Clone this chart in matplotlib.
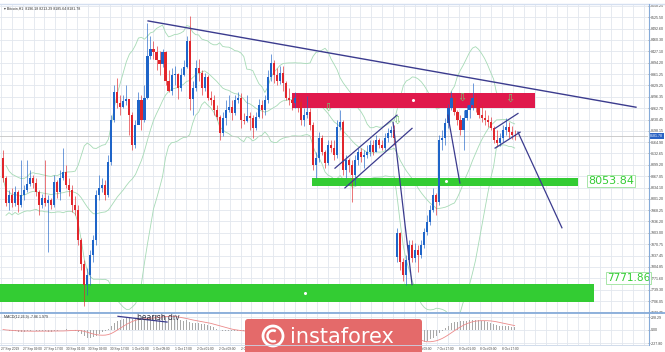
import numpy as np
import pandas as pd
import matplotlib
matplotlib.use("Agg")
import matplotlib.pyplot as plt
from matplotlib.patches import Rectangle, FancyBboxPatch, Circle, Arc

# Bitcoin H1 candles
closes = [8062, 7990, 8013, 7990, 8021, 7984, 8013, 8027, 8044, 8062,
          8047, 8021, 7984, 8004, 7990, 7998, 7984, 8050, 8021, 8062,
          8079, 8042, 8027, 7984, 7970, 7884, 7812, 7754, 7783, 7840,
          7884, 8013, 8033, 8042, 8013, 8108, 8228, 8309, 8277, 8268,
          8283, 8289, 8243, 8156, 8214, 8286, 8228, 8294, 8415, 8435,
          8424, 8401, 8392, 8424, 8343, 8314, 8358, 8363, 8320, 8360,
          8381, 8458, 8291, 8320, 8378, 8366, 8320, 8352, 8294, 8286,
          8257, 8237, 8191, 8234, 8257, 8268, 8248, 8286, 8294, 8228,
          8225, 8240, 8234, 8205, 8237, 8271, 8257, 8286, 8352, 8395,
          8358, 8343, 8366, 8335, 8294, 8286, 8277, 8294, 8280, 8228,
          8243, 8251, 8214, 8099, 8119, 8177, 8136, 8105, 8156, 8148,
          8128, 8208, 8222, 8085, 8113, 8099, 8070, 8113, 8136, 8122,
          8128, 8136, 8156, 8136, 8171, 8156, 8148, 8177, 8191, 8200,
          8177, 7904, 7820, 7783, 7826, 7869, 7832, 7855, 7840, 7869,
          7907, 7935, 7970, 8013, 7993, 8171, 8177, 8220, 8263, 8294,
          8251, 8228, 8200, 8234, 8257, 8271, 8294, 8263, 8243, 8234,
          8228, 8222, 8205, 8171, 8162, 8177, 8200, 8208, 8194, 8185,
          8182]
highs = [8142, 8067, 8027, 8033, 8039, 8027, 8113, 8042, 8113, 8085,
         8070, 8062, 8027, 8016, 8113, 8013, 8004, 8070, 8056, 8085,
         8148, 8099, 8062, 8042, 8010, 7984, 7889, 7826, 7803, 7855,
         7898, 8027, 8070, 8062, 8056, 8128, 8243, 8329, 8349, 8300,
         8300, 8329, 8291, 8251, 8228, 8309, 8300, 8329, 8510, 8472,
         8458, 8444, 8429, 8435, 8429, 8372, 8378, 8386, 8366, 8378,
         8401, 8472, 8530, 8343, 8401, 8406, 8372, 8366, 8358, 8314,
         8300, 8271, 8243, 8251, 8286, 8300, 8286, 8300, 8309, 8306,
         8248, 8300, 8251, 8243, 8251, 8291, 8286, 8300, 8372, 8421,
         8401, 8378, 8386, 8386, 8343, 8320, 8300, 8309, 8300, 8294,
         8263, 8297, 8263, 8222, 8136, 8194, 8185, 8142, 8171, 8171,
         8171, 8228, 8257, 8228, 8128, 8119, 8113, 8128, 8148, 8148,
         8142, 8156, 8171, 8171, 8185, 8177, 8171, 8191, 8205, 8211,
         8214, 7918, 7907, 7832, 7840, 7884, 7884, 7875, 7869, 7884,
         7918, 7955, 7984, 8033, 8019, 8185, 8200, 8234, 8274, 8314,
         8300, 8257, 8243, 8257, 8271, 8286, 8337, 8300, 8277, 8271,
         8257, 8243, 8237, 8211, 8200, 8191, 8214, 8234, 8222, 8211,
         8200]
lows = [8050, 7981, 7970, 7978, 7981, 7964, 7978, 7998, 8021, 8039,
        8033, 8010, 7955, 7975, 7981, 7849, 7973, 7978, 8004, 7998,
        8056, 8033, 8010, 7964, 7955, 7869, 7797, 7691, 7725, 7754,
        7820, 7869, 7998, 8021, 7998, 8007, 8099, 8222, 8263, 8243,
        8263, 8271, 8185, 8142, 8148, 8243, 8200, 8222, 8291, 8406,
        8406, 8372, 8358, 8383, 8329, 8309, 8300, 8329, 8291, 8314,
        8355, 8378, 8257, 8243, 8314, 8343, 8300, 8314, 8286, 8271,
        8243, 8228, 8171, 8182, 8214, 8251, 8228, 8243, 8277, 8205,
        8217, 8222, 8200, 8177, 8200, 8234, 8234, 8243, 8277, 8343,
        8337, 8329, 8332, 8314, 8286, 8271, 8257, 8263, 8251, 8214,
        8211, 8234, 8200, 8085, 8062, 8108, 8128, 8090, 8099, 8136,
        8113, 8119, 8200, 8070, 8062, 8079, 7993, 8042, 8099, 8108,
        8090, 8119, 8125, 8128, 8136, 8148, 8142, 8142, 8165, 8179,
        8156, 7820, 7797, 7763, 7754, 7812, 7820, 7820, 7789, 7832,
        7861, 7898, 7927, 7964, 7955, 7984, 8142, 8156, 8205, 8257,
        8243, 8214, 8185, 8142, 8228, 8234, 8257, 8251, 8234, 8222,
        8214, 8208, 8200, 8162, 8151, 8154, 8165, 8185, 8177, 8174,
        8171]
# opens follow the previous close except at the start and after the weekend gap
gap_opens = {0: 8119, 131: 7835}

price_ticks = [8558.25, 8525.50, 8492.60, 8460.30, 8427.10, 8394.20, 8361.25,
               8329.25, 8296.35, 8262.70, 8230.45, 8198.15, 8164.90, 8132.65,
               8099.20, 8067.05, 8034.10, 8001.20, 7968.25, 7936.20, 7903.00,
               7870.75, 7837.45, 7804.85, 7771.60, 7739.30, 7706.05, 7673.75]
time_labels = ["27 Sep 2019", "27 Sep 09:00", "27 Sep 17:00", "30 Sep 01:00",
               "30 Sep 09:00", "30 Sep 17:00", "1 Oct 01:00", "1 Oct 09:00",
               "1 Oct 17:00", "2 Oct 01:00", "2 Oct 09:00", "2 Oct 17:00",
               "3 Oct 01:00", "3 Oct 09:00", "3 Oct 17:00", "4 Oct 01:00",
               "4 Oct 09:00", "4 Oct 17:00", "7 Oct 01:00", "7 Oct 09:00",
               "7 Oct 17:00", "8 Oct 01:00", "8 Oct 09:00", "8 Oct 17:00"]
macd_ticks = [228.29, 0.0, -227.80]

# analyst drawings: (x in bars, price)
trendline = [(48.2, 8515), (210.3, 8266)]
blue_lines = [
    [(110.3, 8090), (130.9, 8243)],
    [(113.6, 8033), (135.9, 8205)],
    [(129.6, 8222), (135.9, 7754)],
    [(147.8, 8243), (151.8, 8047)],
    [(163.5, 8205), (171.1, 8248)],
    [(163.5, 8148), (171.8, 8194)],
    [(171.1, 8194), (185.7, 7918)],
]
red_zone = (96.0, 176.7, 8263, 8306)
green_zone_hi = (102.7, 191.0, 8040, 8062)
green_zone_lo = (-1.0, 196.3, 7705, 7757)
level_hi = 8053.84
level_lo = 7771.86
arrows = [(108.0, 8263), (130.9, 8228), (152.5, 8294), (168.4, 8291)]

BULL = "#1e64c8"
BEAR = "#e1262c"
NAVY = "#3b3b8e"
LIME = "#33cc33"
GRID = "#e2e7ee"
FRAME = "#86abd9"
TICKFONT = "Liberation Sans"

n = len(closes)
x = np.arange(n)
opens = [gap_opens.get(i, closes[i - 1]) for i in range(n)]
s = pd.Series(closes, dtype=float)
mid = s.rolling(20, min_periods=1).mean()
dev = s.rolling(20, min_periods=2).std(ddof=0)
macd = s.ewm(span=12, adjust=False).mean() - s.ewm(span=26, adjust=False).mean()
signal = macd.rolling(9, min_periods=1).mean()

W, H = 665, 352
fig = plt.figure(figsize=(W / 100, H / 100), dpi=100)
ax = fig.add_axes([0, 39 / H, 648 / W, 308 / H])
axm = fig.add_axes([0, 7 / H, 648 / W, 31 / H])

XL = (-1.0, 214.3)
grid_x = np.arange(-0.7, XL[1], 3.62)
label_x = np.arange(-0.7, 7.24 * len(time_labels) - 1, 7.24)

# main pane
ax.set_xlim(*XL)
ax.set_ylim(7672, 8561)
ax.set_xticks(grid_x)
ax.tick_params(axis="x", length=0, labelbottom=False)
ax.set_yticks(price_ticks)
ax.set_yticklabels([f"{v:.2f}" for v in price_ticks], family=TICKFONT)
ax.yaxis.tick_right()
ax.tick_params(axis="y", labelsize=2.6, length=1.2, pad=0.6, colors="#444444", width=0.4)
ax.grid(True, color=GRID, lw=0.6)
ax.set_axisbelow(True)
for sp in ax.spines.values():
    sp.set_visible(False)

for band in (mid + 2 * dev, mid, mid - 2 * dev):
    ax.plot(x, band, color="#a6dab5", lw=0.6, zorder=2)

ax.axhline(closes[-1], color="#c4c4c4", lw=0.6, zorder=2)

for (x0, x1, p0, p1), col in ((red_zone, "#e0194c"), (green_zone_hi, LIME), (green_zone_lo, LIME)):
    ax.add_patch(Rectangle((x0, p0), x1 - x0, p1 - p0, color=col, lw=0, zorder=3))

for i in range(n):
    o, c = opens[i], closes[i]
    col = BULL if c >= o else BEAR
    ax.vlines(x[i], lows[i], highs[i], color=col, lw=0.6, alpha=0.75, zorder=4)
    ax.bar(x[i], max(abs(c - o), 2), bottom=min(o, c), width=0.7, color=col, lw=0, zorder=5)

ax.plot(*zip(*trendline), color=NAVY, lw=1.0, zorder=6)
for seg in blue_lines:
    ax.plot(*zip(*seg), color=NAVY, lw=0.9, zorder=6)

for ax_, ap in arrows:
    ax.text(ax_, ap, "\u21e9", color="#74c874", fontsize=8, ha="center", va="center", zorder=7)

for px, pp in ((136.2, 8286), (147.2, 8053), (100.3, 7731)):
    ax.plot(px, pp, "o", ms=1.2, color="white", zorder=7)

box = dict(boxstyle="square,pad=0.1", fc="white", ec="#a8e6a8", lw=0.7)
ax.text(194.4, level_hi, f"{level_hi:.2f}", color=LIME, fontsize=8, va="center", ha="left", bbox=box, zorder=8)
ax.text(200.7, level_lo, f"{level_lo:.2f}", color=LIME, fontsize=7.6, va="center", ha="left", bbox=box, zorder=8)

ax.text(0.3, 8556, "\u25be Bitcoin,H1  8196.18 8213.29 8185.64 8181.78", fontsize=2.6,
        color="#333333", va="top", zorder=8, family=[TICKFONT, "DejaVu Sans"])

# current price tag on the axis
ax.annotate(f"{8181.78:.2f}", xy=(1.0, closes[-1]), xycoords=("axes fraction", "data"),
            xytext=(1.2, 0), textcoords="offset points", fontsize=2.6, color="white", va="center",
            family=TICKFONT, bbox=dict(boxstyle="square,pad=0.3", fc="#2a63c4", ec="none"),
            zorder=9, annotation_clip=False)

# MACD pane
axm.set_xlim(*XL)
mlim = 1.08 * float(np.abs(macd).max())
axm.set_ylim(-mlim, mlim)
axm.bar(x, macd, width=0.35, color="#a8a8a8", zorder=3)
axm.plot(x, signal, color="#ec8a8a", lw=0.6, zorder=4)
axm.set_xticks(label_x)
axm.set_xticklabels(time_labels, ha="left", family=TICKFONT)
axm.set_xticks(grid_x, minor=True)
axm.tick_params(axis="x", which="both", length=0, labelsize=2.3, pad=1.5, colors="#444444")
axm.set_yticks([mlim * 0.8, 0.0, -mlim * 0.9])
axm.set_yticklabels([f"{v:.2f}" for v in macd_ticks], family=TICKFONT)
axm.yaxis.tick_right()
axm.tick_params(axis="y", labelsize=2.6, length=1.2, pad=0.6, colors="#444444", width=0.4)
axm.grid(True, which="both", axis="x", color=GRID, lw=0.6)
axm.grid(True, axis="y", color=GRID, lw=0.6)
axm.set_axisbelow(True)
for sp in axm.spines.values():
    sp.set_visible(False)
axm.text(0.3, mlim * 0.95, "MACD(12,26,9) -7.86 1.979", fontsize=2.6, color="#333333", va="top",
         family=TICKFONT)
axm.plot([38.2, 54.5], [mlim * 0.85, mlim * 0.48], color=NAVY, lw=0.9, zorder=5)
axm.text(44.6, mlim * 0.78, "bearish div", fontsize=5.5, color="#333344", va="center", zorder=6)

# frame lines
fig.add_artist(plt.Line2D([0, 1], [1 - 4 / H, 1 - 4 / H], color="#d4dff0", lw=1.0))
fig.add_artist(plt.Line2D([0, 1], [39 / H, 39 / H], color=FRAME, lw=1.3))
fig.add_artist(plt.Line2D([648.5 / W, 648.5 / W], [7 / H, 1 - 4 / H], color=FRAME, lw=0.8))
fig.add_artist(plt.Line2D([0, 648 / W], [7 / H, 7 / H], color="#c9d6e8", lw=0.6))

# watermark logo
axl = fig.add_axes([245 / W, 0, 177 / W, 33 / H])
axl.set_xlim(0, 177)
axl.set_ylim(0, 33)
axl.axis("off")
axl.add_patch(FancyBboxPatch((0, -6), 177, 39, boxstyle="round,pad=0,rounding_size=3",
                             fc="#e46a6a", ec="none"))
axl.add_patch(Circle((28, 16), 10, fill=False, ec="white", lw=2))
axl.add_patch(Arc((28, 16), 11, 11, theta1=60, theta2=300, ec="white", lw=1.8))
axl.text(45, 15, "instaforex", color="white", fontsize=15, va="center", ha="left")

fig.savefig("out.png", dpi=100)
